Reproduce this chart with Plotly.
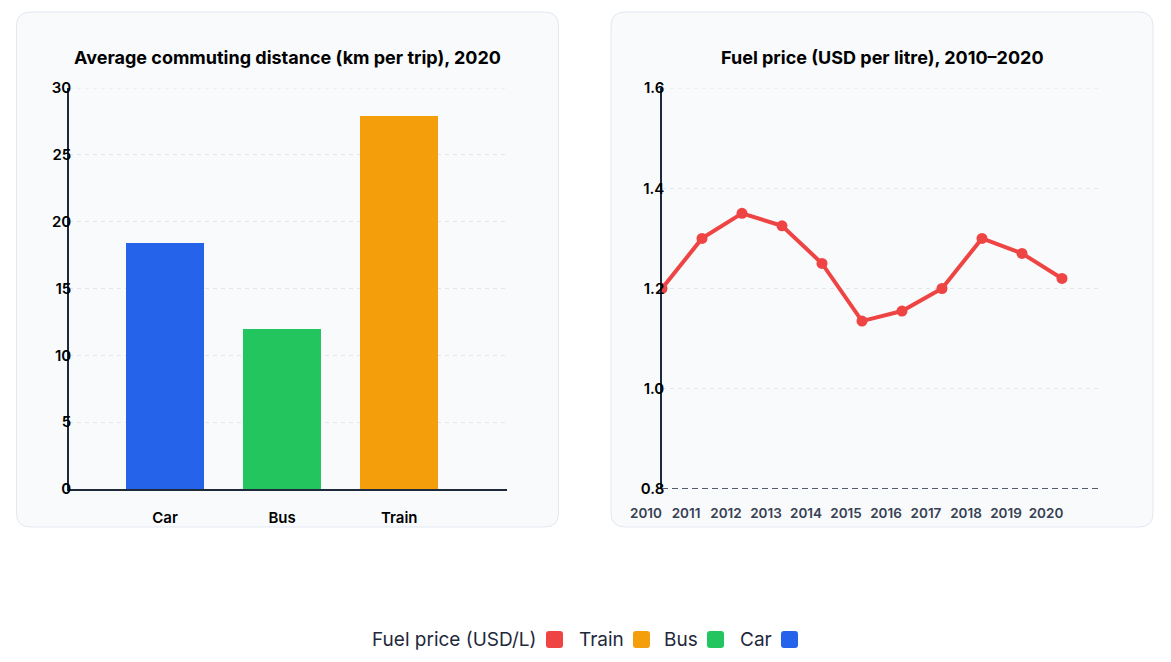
import plotly.graph_objects as go

# ---- data ----
modes = ["Car", "Bus", "Train"]
distance_km = [18.4, 12.0, 27.9]
mode_colors = ["#2563eb", "#22c55e", "#f59e0b"]

years = [2010, 2011, 2012, 2013, 2014, 2015, 2016, 2017, 2018, 2019, 2020]
fuel_price = [1.20, 1.30, 1.35, 1.325, 1.25, 1.135, 1.155, 1.20, 1.30, 1.27, 1.22]
fuel_color = "#ef4444"

legend_names = ["Fuel price (USD/L)", "Train", "Bus", "Car"]
legend_colors = [fuel_color, "#f59e0b", "#22c55e", "#2563eb"]

left_title = "Average commuting distance (km per trip), 2020"
right_title = "Fuel price (USD per litre), 2010\u20132020"

W, H = 1171, 662
FONT = "Inter, Lato, sans-serif"
AX = "#1e293b"
GRID = "#e2e5ea"


def px(x):
    return x / W


def py(y):
    return 1 - y / H


def rrect(w, h, r):
    # rounded rectangle centred on the anchor, pixel units
    return (f"M {-w + r},{-h} L {w - r},{-h} Q {w},{-h} {w},{-h + r} "
            f"L {w},{h - r} Q {w},{h} {w - r},{h} L {-w + r},{h} "
            f"Q {-w},{h} {-w},{h - r} L {-w},{-h + r} Q {-w},{-h} {-w + r},{-h} Z")


fig = go.Figure()

fig.add_trace(go.Bar(
    x=modes, y=distance_km, marker=dict(color=mode_colors, line=dict(width=0)),
    width=0.667, xaxis="x", yaxis="y", showlegend=False,
))

fig.add_trace(go.Scatter(
    x=years, y=fuel_price, mode="lines+markers",
    line=dict(color=fuel_color, width=4),
    marker=dict(color=fuel_color, size=11),
    xaxis="x2", yaxis="y2", showlegend=False,
))

shapes = []
# cards
for cx in (287.5, 882.0):
    shapes.append(dict(
        type="path", layer="below", xref="paper", yref="paper",
        xsizemode="pixel", ysizemode="pixel", xanchor=px(cx), yanchor=py(269.5),
        path=rrect(271, 257.5, 14),
        fillcolor="#f8fafc", line=dict(color="#e2e8f0", width=1),
    ))
# top gridlines (at range end)
shapes.append(dict(type="line", layer="below", xref="x domain", yref="y", x0=0, x1=1, y0=30, y1=30,
                   line=dict(color=GRID, width=1, dash="4px,4px")))
shapes.append(dict(type="line", layer="below", xref="x2 domain", yref="y2", x0=0, x1=1, y0=1.6, y1=1.6,
                   line=dict(color=GRID, width=1, dash="4px,4px")))
# dashed baseline of right panel
shapes.append(dict(
    type="line", xref="x2 domain", yref="y2", x0=0, x1=1, y0=0.8, y1=0.8,
    line=dict(color=AX, width=1.3, dash="6px,4px"),
))

annotations = [
    dict(text=f"<b>{left_title}</b>", x=px(287), y=py(57), xref="paper", yref="paper",
         xanchor="center", yanchor="middle",
         showarrow=False, font=dict(family=FONT, size=18, color="#000")),
    dict(text=f"<b>{right_title}</b>", x=px(882), y=py(57), xref="paper", yref="paper",
         xanchor="center", yanchor="middle",
         showarrow=False, font=dict(family=FONT, size=18, color="#000")),
]

# custom legend (label then swatch)
leg_text_right = [539, 626, 700, 774]
leg_sq_center = [554.5, 641.5, 715.5, 789.5]
for name, col, tx, sx in zip(legend_names, legend_colors, leg_text_right, leg_sq_center):
    annotations.append(dict(
        text=name, x=px(tx), y=py(639), xref="paper", yref="paper",
        xanchor="right", yanchor="middle", showarrow=False,
        font=dict(family=FONT, size=19, color=AX),
    ))
    shapes.append(dict(
        type="path", xref="paper", yref="paper",
        xsizemode="pixel", ysizemode="pixel", xanchor=px(sx), yanchor=py(639.5),
        path=rrect(8.5, 8.5, 3), fillcolor=col, line=dict(width=0),
    ))

fig.update_layout(
    width=W, height=H, margin=dict(l=0, r=0, t=0, b=0, autoexpand=False),
    paper_bgcolor="white", plot_bgcolor="rgba(0,0,0,0)",
    font=dict(family=FONT),
    showlegend=False,
    bargap=0,
    shapes=shapes, annotations=annotations,
    xaxis=dict(
        domain=[px(69), px(507)], anchor="y", type="category",
        range=[-0.82, 2.92], showline=True, linecolor=AX, linewidth=1.5,
        showgrid=False, ticks="", ticklabelstandoff=14,
        tickfont=dict(family=FONT, size=15, color="#000", weight=600),
        fixedrange=True,
    ),
    yaxis=dict(
        domain=[py(489), py(88)], anchor="x", range=[0, 30], dtick=5,
        showline=True, linecolor=AX, linewidth=1.5,
        showgrid=True, gridcolor=GRID, griddash="4px,4px", gridwidth=1,
        zeroline=False, ticks="", ticklabelstandoff=-7,
        tickfont=dict(family=FONT, size=15, color="#000", weight=600),
        fixedrange=True,
    ),
    xaxis2=dict(
        domain=[px(662), px(1101)], anchor="y2",
        range=[2010, 2020.975], tickvals=years, ticktext=[str(y) for y in years],
        showline=False, showgrid=False, zeroline=False, ticks="",
        ticklabelstandoff=14, ticklabelshift=-16,
        tickfont=dict(family=FONT, size=13.5, color="#374151", weight=600),
        fixedrange=True,
    ),
    yaxis2=dict(
        domain=[py(489), py(88)], anchor="x2", range=[0.8, 1.6],
        tickvals=[0.8, 1.0, 1.2, 1.4, 1.6], ticktext=["0.8", "1.0", "1.2", "1.4", "1.6"],
        showline=True, linecolor=AX, linewidth=1.5,
        showgrid=True, gridcolor=GRID, griddash="4px,4px", gridwidth=1,
        zeroline=False, ticks="", ticklabelstandoff=-7,
        tickfont=dict(family=FONT, size=15, color="#000", weight=600),
        fixedrange=True,
    ),
)

fig.write_html("out.html")
